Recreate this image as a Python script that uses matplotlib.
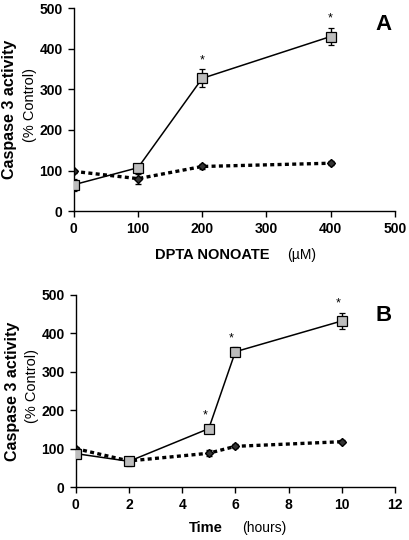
import numpy as np
import matplotlib
matplotlib.use("Agg")
import matplotlib.pyplot as plt

# panel A: dose response
dose = [0, 100, 200, 400]
dose_sq = [65, 107, 327, 430]
dose_sq_err = [15, 8, 22, 22]
dose_di = [98, 80, 110, 118]
dose_di_err = [4, 12, 6, 5]
dose_star = [200, 400]

# panel B: time course
hours = [0, 2, 5, 6, 10]
time_sq = [87, 67, 152, 352, 432]
time_sq_err = [8, 12, 10, 12, 22]
time_di = [100, 68, 88, 106, 118]
time_di_err = [4, 5, 8, 5, 4]
time_star = [5, 6, 10]

plt.rcParams['font.family'] = ['Liberation Sans', 'DejaVu Sans']

fig = plt.figure(figsize=(4.1, 5.4), dpi=100)


def panel(ax, x, sq, sqe, di, die, stars, xmax, xstep, letter, letter_y,
          xlab_bold, xlab_norm, bold_end, norm_start, star_dx):
    ax.errorbar(x, di, yerr=die, color='black', ls=(0, (1.2, 1.0)), lw=2.4,
                marker='D', ms=4.5, mfc='#333333', mec='black',
                capsize=2.5, elinewidth=1, zorder=2)
    ax.errorbar(x, sq, yerr=sqe, color='black', ls='-', lw=1.1,
                marker='s', ms=7, mfc='#bdbdbd', mec='black', mew=0.9,
                capsize=2.5, elinewidth=1, zorder=3)
    for s in stars:
        i = x.index(s)
        ax.text(s + star_dx * xmax, sq[i] + sqe[i] + 8, '*', ha='center', va='bottom',
                fontsize=9)
    ax.set_xlim(0, xmax)
    ax.set_ylim(0, 500)
    ax.set_xticks(np.arange(0, xmax + 1, xstep))
    ax.set_yticks(np.arange(0, 501, 100))
    for s in ['top', 'right']:
        ax.spines[s].set_visible(False)
    ax.spines['left'].set_linewidth(1.0)
    ax.spines['bottom'].set_linewidth(1.0)
    ax.tick_params(direction='out', length=4, width=1, labelsize=10, pad=4)
    for t in ax.get_xticklabels() + ax.get_yticklabels():
        t.set_fontweight('bold')
    ax.text(0.99, letter_y, letter, transform=ax.transAxes, ha='right', va='top',
            fontsize=16, fontweight='bold')
    ax.text(-0.2, 0.5, 'Caspase 3 activity', transform=ax.transAxes, rotation=90,
            ha='center', va='center', fontsize=11.5, fontweight='bold')
    ax.text(-0.137, 0.525, '(% Control)', transform=ax.transAxes, rotation=90,
            ha='center', va='center', fontsize=10.5)
    ax.text(bold_end, -0.215, xlab_bold, transform=ax.transAxes, ha='right', va='center',
            fontsize=10.5, fontweight='bold')
    ax.text(norm_start, -0.215, xlab_norm, transform=ax.transAxes, ha='left', va='center',
            fontsize=10)


ax1 = fig.add_axes([0.18, 0.609, 0.783, 0.376])
panel(ax1, dose, dose_sq, dose_sq_err, dose_di, dose_di_err, dose_star,
      500, 100, 'A', 0.97, 'DPTA NONOATE', '(\u00b5M)', 0.61, 0.664, 0)

ax2 = fig.add_axes([0.185, 0.098, 0.778, 0.356])
panel(ax2, hours, time_sq, time_sq_err, time_di, time_di_err, time_star,
      12, 2, 'B', 0.945, 'Time', '(hours)', 0.46, 0.52, -0.012)

fig.savefig('out.png', dpi=100)
